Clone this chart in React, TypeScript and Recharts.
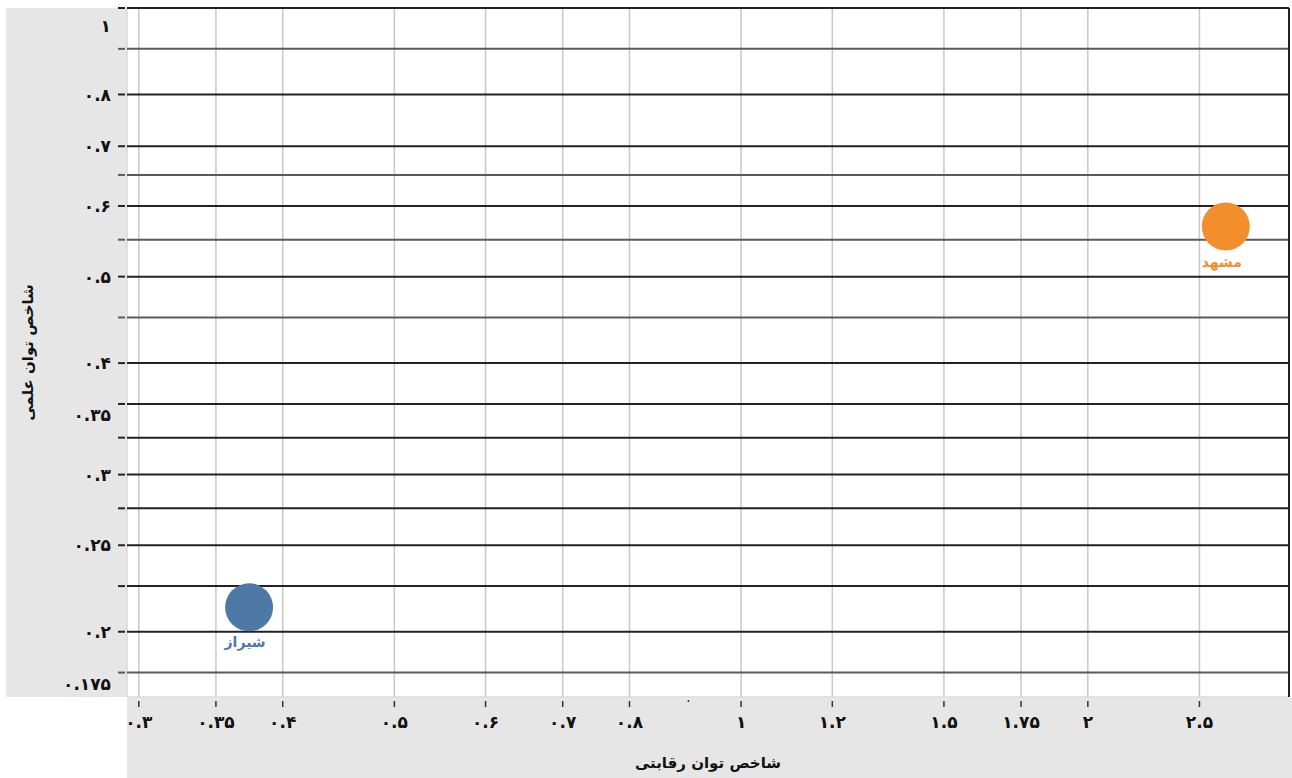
import { ReferenceLine, Scatter, ScatterChart, XAxis, YAxis } from "recharts";

const cities = ["شیراز", "مشهد"];
const competitiveness = [0.374, 2.635];
const scientific = [0.213, 0.569];
const cityColors = ["#4e79a7", "#f28e2b"];

const xTicks = [0.3, 0.35, 0.4, 0.5, 0.6, 0.7, 0.8, 0.9, 1, 1.2, 1.5, 1.75, 2, 2.5];
const xUnlabeled = [0.9];
const yLabels = [1, 0.8, 0.7, 0.6, 0.5, 0.4, 0.35, 0.3, 0.25, 0.2, 0.175];
const yGridDark = [1, 0.8, 0.7, 0.6, 0.5, 0.4, 0.36, 0.33, 0.3, 0.275, 0.25, 0.225, 0.2];
const yGridGrey = [0.9, 0.65, 0.55, 0.45, 0.18];

const X_DOMAIN: [number, number] = [0.293, 2.99];
const Y_DOMAIN: [number, number] = [0.169, 1];

const W = 1292;
const H = 778;
const LEFT = 127;
const RIGHT = 3;
const TOP = 8;
const BOTTOM = 81;

const FONT = "'DejaVu Sans', sans-serif";
const PANEL = "#e6e6e6";

const faDigits = "۰۱۲۳۴۵۶۷۸۹";
const toFa = (n: number) => String(n).replace(/\d/g, (d) => faDigits[Number(d)]);

const yTicks = Array.from(new Set([...yLabels, ...yGridDark, ...yGridGrey])).sort((a, b) => b - a);
const xGrid = xTicks.filter((t) => !xUnlabeled.includes(t));

function YTick(props: any) {
  const { x, y, payload } = props;
  const v = payload.value as number;
  const isDark = yGridDark.includes(v);
  const isGrey = yGridGrey.includes(v);
  const hasLabel = yLabels.includes(v);
  // top label is pushed inside the panel
  const ty = v === 1 ? y + 18 : y;
  return (
    <g>
      {(isDark || isGrey) && (
        <line x1={x - 7} x2={x} y1={y} y2={y} stroke={isDark ? "#222" : "#5a5a5a"} strokeWidth={2} />
      )}
      {hasLabel && (
        <text
          x={x - 14}
          y={ty}
          dy="0.36em"
          textAnchor="end"
          fontFamily={FONT}
          fontWeight="bold"
          fontSize={17}
          fill="#111"
        >
          {toFa(v)}
        </text>
      )}
    </g>
  );
}

function XTick(props: any) {
  const { x, y, payload } = props;
  const v = payload.value as number;
  if (xUnlabeled.includes(v)) {
    return <line x1={x} x2={x} y1={y + 1} y2={y + 3} stroke="#333" strokeWidth={1.5} />;
  }
  return (
    <g>
      <line x1={x} x2={x} y1={y + 2} y2={y + 8} stroke="#333" strokeWidth={1.5} />
      <text
        x={x}
        y={y + 23}
        dy="0.36em"
        textAnchor="middle"
        fontFamily={FONT}
        fontWeight="bold"
        fontSize={17}
        fill="#111"
      >
        {toFa(v)}
      </text>
    </g>
  );
}

function Bubble(props: any) {
  const { cx, cy, fill, payload } = props;
  return (
    <g>
      <circle cx={cx} cy={cy} r={24} fill={fill} />
      <text
        x={cx - 4}
        y={cy + 35}
        dy="0.36em"
        textAnchor="middle"
        fontFamily={FONT}
        fontWeight="bold"
        fontSize={14}
        fill={fill}
      >
        {payload.name}
      </text>
    </g>
  );
}

export default function App() {
  return (
    <div style={{ position: "absolute", left: 0, top: 0, width: W, height: H, background: "#fff" }}>
      <div style={{ position: "absolute", left: 6, top: TOP, width: LEFT - 6, height: H - TOP - BOTTOM, background: PANEL }} />
      <div style={{ position: "absolute", left: LEFT, top: H - BOTTOM + 1, width: W - LEFT, height: BOTTOM - 1, background: PANEL }} />
      <div style={{ position: "absolute", left: 0, top: 0 }}>
        <ScatterChart width={W} height={H} margin={{ top: TOP, right: RIGHT, bottom: 0, left: 0 }}>
          <XAxis
            type="number"
            dataKey="x"
            scale="log"
            domain={X_DOMAIN}
            allowDataOverflow
            ticks={xTicks}
            interval={0}
            height={BOTTOM}
            axisLine={false}
            tickLine={false}
            tickSize={0}
            tick={<XTick />}
            label={{
              value: "شاخص توان رقابتی",
              position: "insideBottom",
              offset: 10,
              style: { fontFamily: FONT, fontWeight: "bold", fontSize: 15, fill: "#111" },
            }}
          />
          <YAxis
            type="number"
            dataKey="y"
            scale="log"
            domain={Y_DOMAIN}
            allowDataOverflow
            ticks={yTicks}
            interval={0}
            width={LEFT}
            axisLine={false}
            tickLine={false}
            tickSize={0}
            tick={<YTick />}
            label={{
              value: "شاخص توان علمی",
              angle: -90,
              position: "insideLeft",
              offset: 28,
              style: { fontFamily: FONT, fontWeight: "bold", fontSize: 15, fill: "#111", textAnchor: "middle" },
            }}
          />
          {xGrid.map((v) => (
            <ReferenceLine key={"vx" + v} x={v} stroke="#c8c8c8" strokeWidth={1.5} />
          ))}
          <ReferenceLine x={X_DOMAIN[0]} stroke="#d9d9d9" strokeWidth={1.5} />
          <ReferenceLine y={Y_DOMAIN[0]} stroke="#d9d9d9" strokeWidth={1.5} />
          {yGridGrey.map((v) => (
            <ReferenceLine key={"hg" + v} y={v} stroke="#5a5a5a" strokeWidth={2} />
          ))}
          {yGridDark.map((v) => (
            <ReferenceLine key={"hd" + v} y={v} stroke="#222" strokeWidth={2} />
          ))}
          <ReferenceLine x={X_DOMAIN[1]} stroke="#222" strokeWidth={2} />
          {cities.map((name, i) => (
            <Scatter
              key={name}
              name={name}
              data={[{ x: competitiveness[i], y: scientific[i], name }]}
              fill={cityColors[i]}
              shape={<Bubble />}
              isAnimationActive={false}
            />
          ))}
        </ScatterChart>
      </div>
    </div>
  );
}
